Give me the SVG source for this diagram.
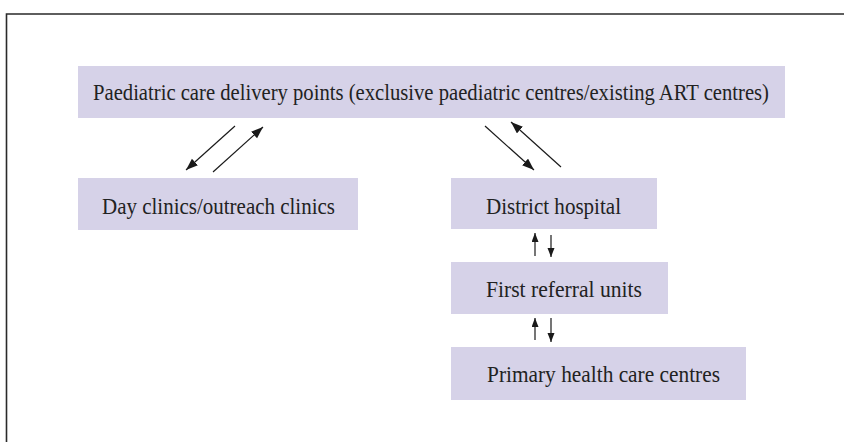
<svg xmlns="http://www.w3.org/2000/svg" width="844" height="442" viewBox="0 0 844 442">
<style>
.box{fill:#d6d2e8;}
.lbl{font-family:"Liberation Serif","Times New Roman",serif;font-size:24px;fill:#222;}
.conn{stroke:#1a1a1a;stroke-width:1.2;fill:none;}
</style>
<defs>
<marker id="ah" markerUnits="userSpaceOnUse" markerWidth="13" markerHeight="10" refX="12" refY="4.5" orient="auto">
<path d="M0,0 L12,4.5 L0,9 z" fill="#1a1a1a"/>
</marker>
<marker id="ahs" markerUnits="userSpaceOnUse" markerWidth="10" markerHeight="8" refX="9" refY="3.5" orient="auto">
<path d="M0,0 L9,3.5 L0,7 z" fill="#1a1a1a"/>
</marker>
</defs>
<rect x="0" y="0" width="844" height="442" fill="#fff"/>
<path d="M6.5,442 V14 H844" fill="none" stroke="#2a2a2a" stroke-width="1.6"/>
<g id="node-paediatric">
<rect class="box" x="78" y="66" width="707" height="52"/>
<text class="lbl" x="93" y="99.5" textLength="676" lengthAdjust="spacingAndGlyphs">Paediatric care delivery points (exclusive paediatric centres/existing ART centres)</text>
</g>
<g id="node-day">
<rect class="box" x="78" y="178" width="280" height="52"/>
<text class="lbl" x="102" y="213.5" textLength="233" lengthAdjust="spacingAndGlyphs">Day clinics/outreach clinics</text>
</g>
<g id="node-district">
<rect class="box" x="451" y="178" width="206" height="51"/>
<text class="lbl" x="486" y="213.5" textLength="135" lengthAdjust="spacingAndGlyphs">District hospital</text>
</g>
<g id="node-fru">
<rect class="box" x="451" y="262" width="217" height="52"/>
<text class="lbl" x="486" y="296.5" textLength="156" lengthAdjust="spacingAndGlyphs">First referral units</text>
</g>
<g id="node-phc">
<rect class="box" x="451" y="347" width="295" height="53"/>
<text class="lbl" x="487" y="382" textLength="233" lengthAdjust="spacingAndGlyphs">Primary health care centres</text>
</g>
<g id="connectors">
<line class="conn" x1="235" y1="126" x2="186" y2="170" marker-end="url(#ah)"/>
<line class="conn" x1="213" y1="172" x2="263" y2="127" marker-end="url(#ah)"/>
<line class="conn" x1="485" y1="126" x2="534" y2="170" marker-end="url(#ah)"/>
<line class="conn" x1="561" y1="167" x2="511" y2="122" marker-end="url(#ah)"/>
<line class="conn" x1="535" y1="256" x2="535" y2="233" marker-end="url(#ahs)"/>
<line class="conn" x1="551" y1="235" x2="551" y2="257" marker-end="url(#ahs)"/>
<line class="conn" x1="535" y1="340" x2="535" y2="318" marker-end="url(#ahs)"/>
<line class="conn" x1="551" y1="318" x2="551" y2="342" marker-end="url(#ahs)"/>
</g>
</svg>
